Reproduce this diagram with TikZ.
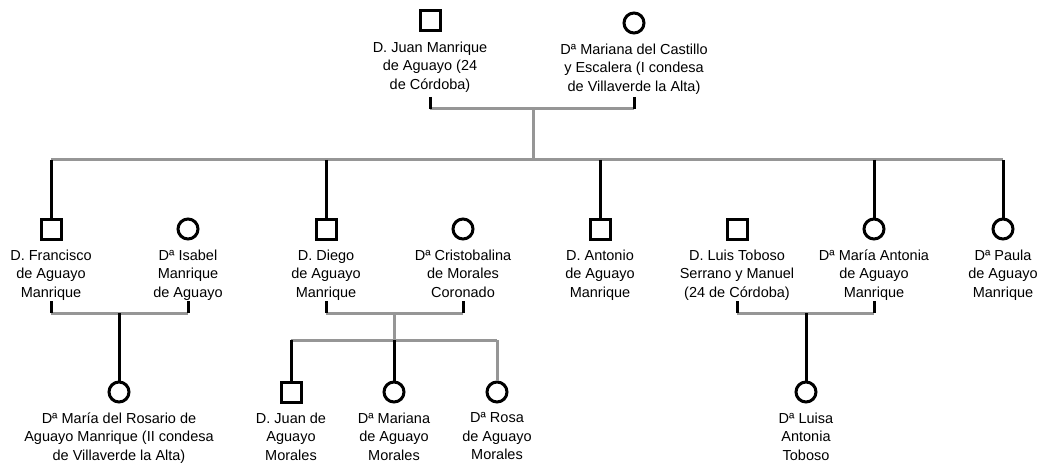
\documentclass[tikz,border=0pt]{standalone}
\usepackage{fontspec}
\setmainfont{Liberation Sans}
\usetikzlibrary{positioning}
\definecolor{linegray}{RGB}{150,150,150}

\begin{document}
\begin{tikzpicture}[x=1pt,y=-1pt,
    male/.style={draw,line width=3pt,minimum size=20pt,inner sep=0pt},
    female/.style={draw,circle,line width=3pt,minimum size=20pt,inner sep=0pt},
    caption/.style={align=center,inner sep=0pt,font=\fontsize{14.5}{18.5}\selectfont},
    blood/.style={line width=3pt},
    bond/.style={line width=3pt,linegray}]
\useasboundingbox (0,0) rectangle (1050,468);

\node[male] (juan) at (430,21) {};
\node[caption,below=9pt of juan] (juanT) {D. Juan Manrique\\de Aguayo (24\\de Córdoba)};
\node[female] (mariana) at (634,23) {};
\node[caption,below=9pt of mariana] (marianaT) {Dª Mariana del Castillo\\y Escalera (I condesa\\de Villaverde la Alta)};

\node[male] (francisco) at (51,229) {};
\node[caption,below=9pt of francisco] (franciscoT) {D. Francisco\\de Aguayo\\Manrique};
\node[female] (isabel) at (188,229) {};
\node[caption,below=9pt of isabel] (isabelT) {Dª Isabel\\Manrique\\de Aguayo};
\node[male] (diego) at (326,229) {};
\node[caption,below=9pt of diego] (diegoT) {D. Diego\\de Aguayo\\Manrique};
\node[female] (cristobalina) at (463,229) {};
\node[caption,below=9pt of cristobalina] (cristobalinaT) {Dª Cristobalina\\de Morales\\Coronado};
\node[male] (antonio) at (600,229) {};
\node[caption,below=9pt of antonio] (antonioT) {D. Antonio\\de Aguayo\\Manrique};
\node[male] (luis) at (737,229) {};
\node[caption,below=9pt of luis] (luisT) {D. Luis Toboso\\Serrano y Manuel\\(24 de Córdoba)};
\node[female] (mantonia) at (874,229) {};
\node[caption,below=9pt of mantonia] (mantoniaT) {Dª María Antonia\\de Aguayo\\Manrique};
\node[female] (paula) at (1003,229) {};
\node[caption,below=9pt of paula] (paulaT) {Dª Paula\\de Aguayo\\Manrique};

\node[female] (rosario) at (119,392) {};
\node[caption,below=9pt of rosario] (rosarioT) {Dª María del Rosario de\\Aguayo Manrique (II condesa\\de Villaverde la Alta)};
\node[male] (juanm) at (291,392) {};
\node[caption,below=9pt of juanm] (juanmT) {D. Juan de\\Aguayo\\Morales};
\node[female] (marianam) at (394,392) {};
\node[caption,below=9pt of marianam] (marianamT) {Dª Mariana\\de Aguayo\\Morales};
\node[female] (rosa) at (497,392) {};
\node[caption,below=9pt of rosa] (rosaT) {Dª Rosa\\de Aguayo\\Morales};
\node[female] (luisa) at (806,392) {};
\node[caption,below=9pt of luisa] (luisaT) {Dª Luisa\\Antonia\\Toboso};

\coordinate (m1) at (533,109);
\coordinate (s1) at (533,160);
\coordinate (m2) at (119,313);
\coordinate (m3) at (394,313);
\coordinate (s3) at (394,340);
\coordinate (m4) at (806,313);

\draw[bond] (juan |- m1) -- (mariana |- m1);
\draw[blood] ([yshift=12pt]juan |- m1) -- (juan |- m1);
\draw[blood] ([yshift=12pt]mariana |- m1) -- (mariana |- m1);
\draw[bond] (m1) -- (s1);
\draw[bond] (francisco |- s1) -- (paula |- s1);
\draw[blood] (francisco |- s1) -- (francisco);
\draw[blood] (diego |- s1) -- (diego);
\draw[blood] (antonio |- s1) -- (antonio);
\draw[blood] (mantonia |- s1) -- (mantonia);
\draw[blood] (paula |- s1) -- (paula);

\draw[bond] (francisco |- m2) -- (isabel |- m2);
\draw[blood] ([yshift=12pt]francisco |- m2) -- (francisco |- m2);
\draw[blood] ([yshift=12pt]isabel |- m2) -- (isabel |- m2);
\draw[blood] (m2) -- (rosario);

\draw[bond] (diego |- m3) -- (cristobalina |- m3);
\draw[blood] ([yshift=12pt]diego |- m3) -- (diego |- m3);
\draw[blood] ([yshift=12pt]cristobalina |- m3) -- (cristobalina |- m3);
\draw[bond] (m3) -- (s3);
\draw[bond] (juanm |- s3) -- (rosa |- s3);
\draw[blood] (juanm |- s3) -- (juanm);
\draw[blood] (s3) -- (marianam);
\draw[bond] (rosa |- s3) -- (rosa);

\draw[bond] (luis |- m4) -- (mantonia |- m4);
\draw[blood] ([yshift=12pt]luis |- m4) -- (luis |- m4);
\draw[blood] ([yshift=12pt]mantonia |- m4) -- (mantonia |- m4);
\draw[blood] (m4) -- (luisa);
\end{tikzpicture}
\end{document}
